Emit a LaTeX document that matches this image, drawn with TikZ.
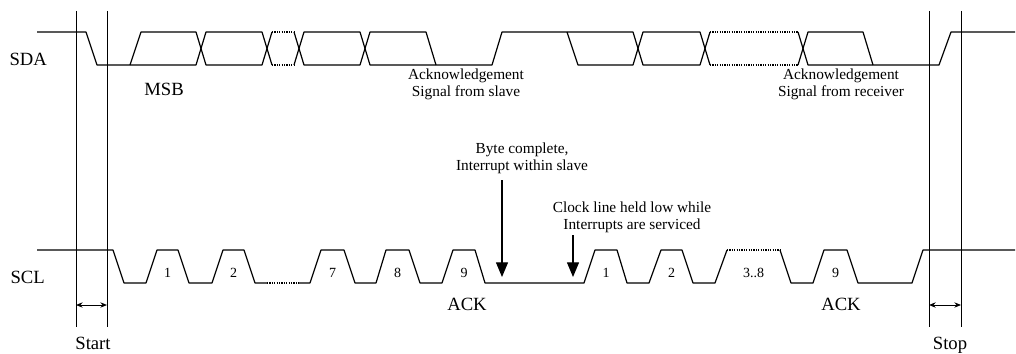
\documentclass[tikz,border=0pt]{standalone}
\usepackage{fontspec}
\setmainfont{Liberation Serif}
\usetikzlibrary{arrows.meta}
\begin{document}
\begin{tikzpicture}[>={Stealth[length=5pt,width=4pt]}, line join=round, x=.75pt, y=-.75pt, line width=.9pt,
    dots/.style={dash pattern=on .9pt off .9pt},
    big/.style={font=\fontsize{14}{16}\selectfont, inner sep=0pt},
    note/.style={font=\fontsize{11.5}{12.8}\selectfont, align=center, inner sep=0pt},
    num/.style={font=\fontsize{10.5}{12}\selectfont, anchor=base, inner sep=0pt}]
    \def\sdah{32} \def\sdal{65} % SDA high/low
    \def\sclh{250} \def\scll{283} % SCL high/low
    \useasboundingbox (0,0) rectangle (1016,353);
    % start/stop markers
    \draw[line width=.7pt] (76,11)--(76,327) (107,11)--(107,327) (929,11)--(929,327) (961,11)--(961,327);
    \coordinate (sta) at (76,305); \coordinate (stb) at (107,305);
    \coordinate (spa) at (929,305); \coordinate (spb) at (961,305);
    \draw[<->, line width=.7pt] (sta) -- (stb);
    \draw[<->, line width=.7pt] (spa) -- (spb);
    \node[big, anchor=base] (start) at (93,349) {Start};
    \node[big, anchor=base] (stop) at (950,349) {Stop};
    % SDA
    \node[big, anchor=base west] (sda) at (9,\sdal) {SDA};
    \draw (37,\sdah)--(86,\sdah)--(97,\sdal)--(196,\sdal)--(206,\sdah)--(262,\sdah)--(272,\sdal)
          (294,\sdal)--(304,\sdah)--(360,\sdah)--(370,\sdal)--(492,\sdal)--(502,\sdah)--(633,\sdah)--(643,\sdal)--(700,\sdal)--(710,\sdah)
          (798,\sdah)--(808,\sdal)--(939,\sdal)--(951,\sdah)--(1015,\sdah);
    \draw (130,\sdal)--(141,\sdah)--(196,\sdah)--(206,\sdal)--(262,\sdal)--(272,\sdah)
          (294,\sdah)--(304,\sdal)--(360,\sdal)--(370,\sdah)--(426,\sdah)--(436,\sdal);
    \draw (567,\sdah)--(578,\sdal)--(633,\sdal)--(643,\sdah)--(700,\sdah)--(710,\sdal)
          (798,\sdal)--(808,\sdah)--(863,\sdah)--(873,\sdal);
    \draw[dots] (272,\sdah)--(294,\sdah) (272,\sdal)--(294,\sdal) (710,\sdah)--(798,\sdah) (710,\sdal)--(798,\sdal);
    \node[big, anchor=base] (msb) at (164,95) {MSB};
    \node[note] (ackslave) at (466,84.5) {Acknowledgement\\Signal from slave};
    \node[note] (ackrecv) at (841,84.5) {Acknowledgement\\Signal from receiver};
    % SCL
    \node[big, anchor=base west] (scl) at (10,\scll) {SCL};
    \draw (37,\sclh)--(113,\sclh)--(124,\scll)--(146,\scll)--(157,\sclh)--(178,\sclh)--(189,\scll)--(212,\scll)--(223,\sclh)--(244,\sclh)--(255,\scll)--(267,\scll)
          (299,\scll)--(310,\scll)--(321,\sclh)--(344,\sclh)--(355,\scll)--(376,\scll)--(386,\sclh)--(409,\sclh)--(420,\scll)--(442,\scll)--(453,\sclh)--(475,\sclh)--(485,\scll)
          --(584,\scll)--(595,\sclh)--(617,\sclh)--(627,\scll)--(649,\scll)--(661,\sclh)--(682,\sclh)--(693,\scll)--(715,\scll)--(727,\sclh)
          (780,\sclh)--(791,\scll)--(813,\scll)--(824,\sclh)--(847,\sclh)--(858,\scll)--(912,\scll)--(923,\sclh)--(1015,\sclh);
    \draw[dots] (267,\scll)--(299,\scll) (727,\sclh)--(780,\sclh);
    \foreach \x/\t/\n in {167.5/1/a1, 233.5/2/a2, 332.5/7/a7, 397.5/8/a8, 464/9/a9,
                          606/1/b1, 671.5/2/b2, 753.5/3..8/b3, 835.5/9/b9}
        \node[num] (\n) at (\x,277) {\t};
    \node[big, anchor=base] (ack1) at (467,310) {ACK};
    \node[big, anchor=base] (ack2) at (841,310) {ACK};
    % interrupt notes
    \node[note] (bytedone) at (522,158) {Byte complete,\\Interrupt within slave};
    \node[note] (clkheld) at (632,217) {Clock line held low while\\Interrupts are serviced};
    \coordinate (irq) at (502,277);
    \coordinate (hold) at (573,277);
    \draw[-{Triangle[length=11pt,width=9pt]}, shorten <=4.5pt] (bytedone.south -| irq) -- (irq);
    \draw[-{Triangle[length=11pt,width=9pt]}, shorten <=1.5pt] (clkheld.south -| hold) -- (hold);
\end{tikzpicture}
\end{document}
